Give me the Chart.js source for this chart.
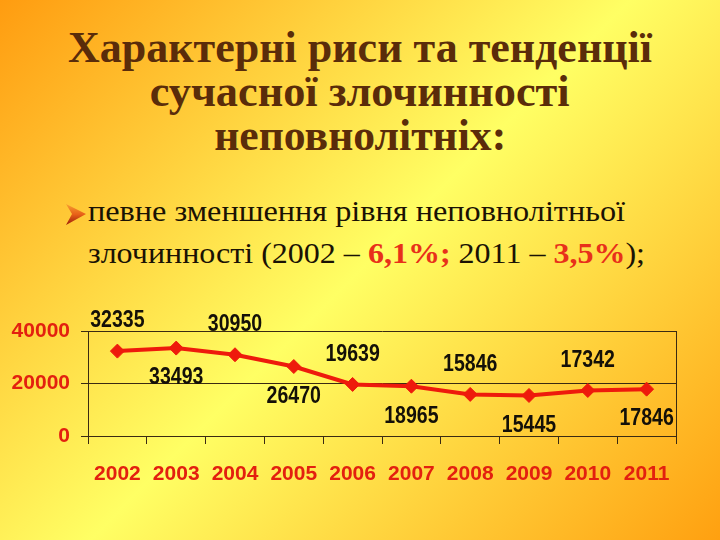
<!DOCTYPE html>
<html>
<head>
<meta charset="utf-8">
<script src="https://cdn.jsdelivr.net/npm/chart.js@4.4.0/dist/chart.umd.min.js"></script>
<style>
  html, body { margin: 0; padding: 0; }
  body {
    width: 720px; height: 540px; overflow: hidden; position: relative;
    background: linear-gradient(135deg, #ff9c10 0%, #ffff64 50%, #ffa010 100%);
  }
  .t { position: absolute; left: 0; width: 720px; text-align: center; white-space: nowrap;
       font-family: 'Liberation Serif', 'Times New Roman', serif; font-weight: bold;
       font-size: 44px; line-height: 42px; color: #5a2c0a; }
  .t span { display: inline-block; transform-origin: center; }
  .b { position: absolute; left: 88px; white-space: nowrap;
       font-family: 'Liberation Serif', 'Times New Roman', serif;
       font-size: 30px; line-height: 28px; color: #1a1204; }
  .b span.w { display: inline-block; transform-origin: left; }
  .red { color: #e8301a; font-weight: bold; }
  #wrap { position: absolute; left: 0; top: 0; width: 720px; height: 540px; }
  svg { position: absolute; left: 0; top: 0; }
</style>
</head>
<body>
<div class="t" style="top:27px"><span data-w="584">Характерні риси та тенденції</span></div>
<div class="t" style="top:71px"><span data-w="420">сучасної злочинності</span></div>
<div class="t" style="top:115px"><span data-w="292">неповнолітніх:</span></div>
<svg width="100" height="240">
  <defs>
    <linearGradient id="ag" x1="0" y1="0" x2="0" y2="1">
      <stop offset="0" stop-color="#f7a030"/>
      <stop offset="0.5" stop-color="#e86018"/>
      <stop offset="1" stop-color="#9a1c08"/>
    </linearGradient>
  </defs>
  <polygon points="66,204 86,214 66,225 72,214" fill="url(#ag)"/>
</svg>
<div class="b" style="top:197px"><span class="w" data-w="537">певне зменшення рівня неповнолітньої</span></div>
<div class="b" style="top:239px"><span class="w" data-w="557">злочинності (2002 – <span class="red">6,1%;</span> 2011 – <span class="red">3,5%</span>);</span></div>
<div id="wrap"><canvas id="c" width="720" height="540"></canvas></div>
<script>
const years = ['2002','2003','2004','2005','2006','2007','2008','2009','2010','2011'];
const offenders = [32335, 33493, 30950, 26470, 19639, 18965, 15846, 15445, 17342, 17846];
const yTicks = [0, 20000, 40000];

document.querySelectorAll('[data-w]').forEach(el => {
  const w = el.getBoundingClientRect().width;
  const target = +el.dataset.w;
  el.style.transform = 'scaleX(' + (target / w) + ')';
});

const axisColor = '#3a2a12';
const labelRed = '#e3200f';

const valueLabels = {
  id: 'valueLabels',
  afterDatasetsDraw(chart) {
    const ctx = chart.ctx;
    const meta = chart.getDatasetMeta(0);
    ctx.save();
    ctx.font = 'bold 23px "Liberation Sans", Arial, sans-serif';
    ctx.fillStyle = '#141008';
    ctx.textAlign = 'center';
    ctx.textBaseline = 'middle';
    meta.data.forEach((pt, i) => {
      const dy = (i % 2 === 0) ? -30 : 30;
      ctx.save();
      ctx.translate(pt.x, pt.y + dy);
      ctx.scale(0.85, 1);
      ctx.fillText(String(offenders[i]), 0, 0);
      ctx.restore();
    });
    ctx.restore();
  }
};

new Chart(document.getElementById('c'), {
  type: 'line',
  data: {
    labels: years,
    datasets: [{
      data: offenders,
      borderColor: '#ee1a0c',
      backgroundColor: '#ee1a0c',
      borderWidth: 4,
      pointStyle: 'rectRot',
      pointRadius: 7,
      pointBorderWidth: 1,
      tension: 0,
      fill: false
    }]
  },
  options: {
    responsive: false,
    animation: false,
    layout: { padding: { top: 331, left: 0, right: 44, bottom: 0 } },
    plugins: { legend: { display: false }, tooltip: { enabled: false } },
    scales: {
      x: {
        offset: true,
        grid: { offset: true, drawOnChartArea: false, drawTicks: true, tickLength: 8, color: axisColor, lineWidth: 1 },
        border: { display: true, color: axisColor, width: 1 },
        ticks: { color: labelRed, padding: 18, font: { family: '"Liberation Sans", Arial, sans-serif', size: 21, weight: 'bold' }, maxRotation: 0, autoSkip: false },
        afterFit(s) { s.height = 104; }
      },
      y: {
        min: 0, max: 40000,
        afterBuildTicks(s) { s.ticks = yTicks.map(v => ({ value: v })); },
        grid: { color: axisColor, lineWidth: 1, tickLength: 7, drawTicks: true },
        border: { display: true, color: axisColor, width: 1 },
        ticks: { color: labelRed, padding: 11, callback: v => String(v), font: { family: '"Liberation Sans", Arial, sans-serif', size: 21, weight: 'bold' } },
        afterFit(s) { s.width = 88; }
      },
      y2: {
        position: 'right', min: 0, max: 40000,
        grid: { display: false, drawOnChartArea: false, drawTicks: false },
        border: { display: true, color: axisColor, width: 1 },
        ticks: { display: false },
        afterFit(s) { s.width = 0; }
      }
    }
  },
  plugins: [valueLabels]
});
</script>
</body>
</html>
